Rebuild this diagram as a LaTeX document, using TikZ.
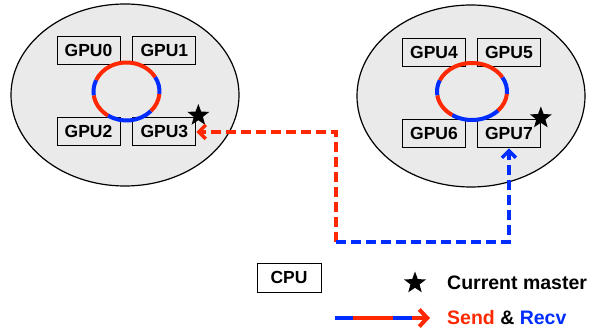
\documentclass[tikz,border=0pt]{standalone}
\usepackage{fontspec}
\setmainfont{Liberation Sans}
\usetikzlibrary{positioning,arrows.meta,shapes.geometric,calc}
\definecolor{sendred}{RGB}{255,40,0}
\definecolor{recvblue}{RGB}{0,45,255}
\definecolor{nodegray}{RGB}{234,234,234}
\tikzstyle{machine} = [ellipse, draw, line width=1.2pt, fill=nodegray,
                       minimum width=228pt, minimum height=182pt, inner sep=0pt]
\tikzstyle{gpu}     = [rectangle, draw, line width=0.9pt, minimum width=63pt,
                       minimum height=28pt, inner sep=0pt,
                       font=\fontsize{17.5}{20}\selectfont\bfseries]
\tikzstyle{master}  = [star, star points=5, star point ratio=2.4, fill=black,
                       minimum size=23pt, inner sep=0pt]
\tikzstyle{legend}  = [anchor=west, inner sep=0pt,
                       font=\fontsize{19.5}{22}\selectfont\bfseries]
\tikzstyle{link}    = [line width=3.5pt, dash pattern=on 10pt off 5pt,
                       -{Straight Barb[length=7pt,width=14pt]}]
\tikzstyle{ringseg} = [line width=4pt]
\newcommand{\ring}[3]{% centre, x radius, y radius
  \foreach \from/\to/\col in {-5/30/recvblue, 30/157/sendred, 157/188/recvblue,
                              188/236/sendred, 236/318/recvblue, 318/355/sendred}
    \draw[ringseg, \col] ($(#1)+(\from:#2 and #3)$)
      arc[start angle=\from, end angle=\to, x radius=#2, y radius=#3];
}

\begin{document}
\begin{tikzpicture}[x=1pt, y=1pt]
		\useasboundingbox (0,0) rectangle (594,335);

		% two machines
		\node[machine] (m0) at (125,240) {};
		\node[machine] (m1) at (471,239) {};

		\node[gpu] (g0) at (88.5,285) {GPU0};
		\node[gpu, right=12pt of g0] (g1) {GPU1};
		\node[gpu, below=53pt of g0] (g2) {GPU2};
		\node[gpu, right=12pt of g2] (g3) {GPU3};

		\node[gpu] (g4) at (434,283) {GPU4};
		\node[gpu, right=11pt of g4] (g5) {GPU5};
		\node[gpu, below=53pt of g4] (g6) {GPU6};
		\node[gpu, right=11pt of g6] (g7) {GPU7};

		\coordinate (c0) at (126.5,243.5);
		\coordinate (c1) at (472,243.5);
		\ring{c0}{33pt}{29pt}
		\ring{c1}{35pt}{28.5pt}

		\node[master] (s0) at ($(g3.north east)+(2,2)$) {};
		\node[master] (s1) at ($(g7.north east)+(0,1.5)$) {};

		% transfer between masters
		\coordinate (turn) at (336,93);
		\draw[link, sendred] (turn) |- (g3.east);
		\draw[link, recvblue] (turn) -| (g7.south);

		% legend
		\node[gpu, minimum width=64pt, minimum height=29pt] (cpu) at (289,57.5) {CPU};
		\node[master] (key) at (415,52) {};
		\node[legend] (keytext) at (447,52) {Current master};

		\coordinate (l0) at (335,17);
		\coordinate (l1) at (353,17);
		\coordinate (l2) at (393,17);
		\coordinate (l3) at (412,17);
		\coordinate (l4) at (430,17);
		\draw[ringseg, recvblue] (l0) -- (l1);
		\draw[ringseg, sendred] (l1) -- (l2);
		\draw[ringseg, recvblue] (l2) -- (l3);
		\draw[ringseg, sendred, -{Straight Barb[length=8pt,width=17pt]}] (l3) -- (l4);
		\node[legend] (sendtext) at (447,17)
			{\textcolor{sendred}{Send} \& \textcolor{recvblue}{Recv}};
\end{tikzpicture}
\end{document}
